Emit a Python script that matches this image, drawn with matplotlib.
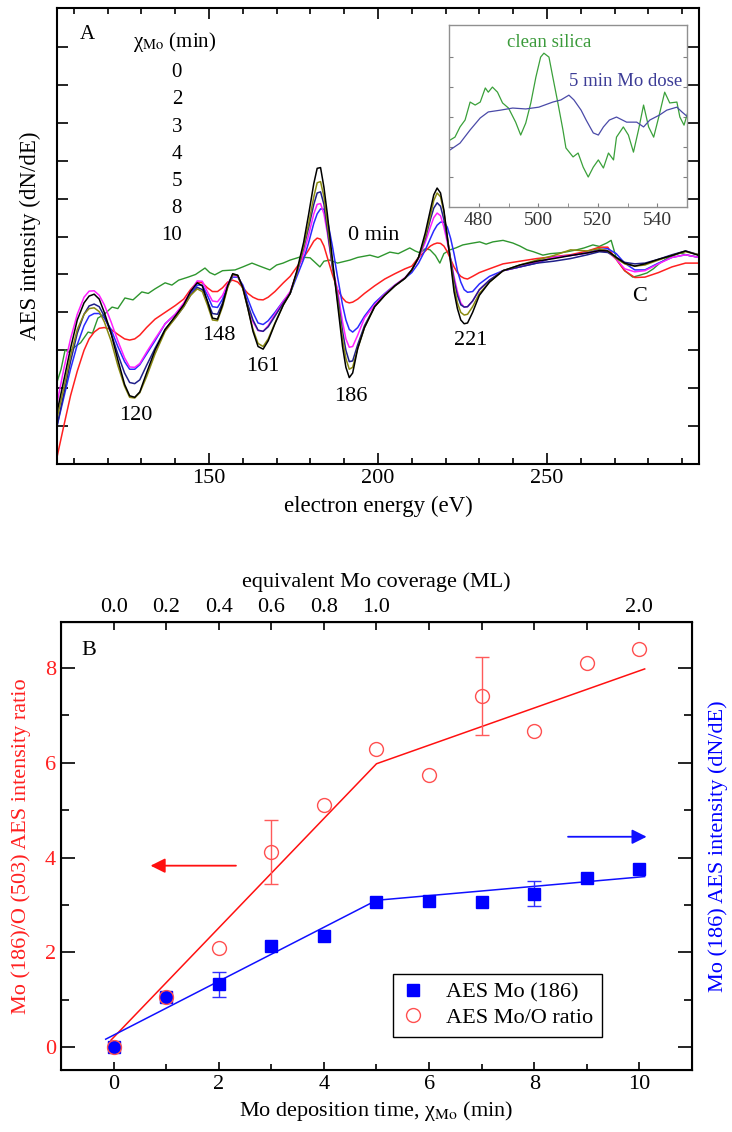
import matplotlib
matplotlib.use("Agg")
import matplotlib.pyplot as plt

plt.rcParams['font.family'] = ['Liberation Serif', 'DejaVu Serif']
plt.rcParams['mathtext.fontset'] = 'stix'

# ---- panel A: AES spectra ----
energy = [105, 107, 109, 111, 113, 114.5, 116, 117.5, 119, 121, 123, 125, 126.5, 128, 129.5, 131.5, 134,
          137, 140, 142.5, 144.5, 146.5, 148, 149.5, 151, 152.5, 154, 155.5, 157, 158.5, 160, 161.5, 163,
          164.5, 166, 167.5, 169.5, 172, 174,
          176, 178, 179.5, 181, 182, 183, 184, 185, 186.5, 188, 189.5, 190.5, 191.5, 192.5, 194, 196,
          199, 202, 205, 208, 210,
          212, 214, 215.5, 216.5, 217.5, 218.5, 219.5, 220.5, 221.5, 222.5, 223.5, 224.5, 225.5, 226.5, 228, 230,
          233, 237, 242, 247, 252, 257, 262, 265.5, 268, 270.5, 273, 276, 279, 283, 287, 291, 295]

spec_10 = [1.37, 2.2, 3.05, 3.8, 4.25, 4.43, 4.48, 4.35, 4.0, 3.45, 2.75, 2.1, 1.8, 1.76, 1.9, 2.4, 3.0,
           3.55, 3.9, 4.2, 4.55, 4.78, 4.7, 4.3, 3.85, 3.82, 4.2, 4.7, 5.02, 4.98, 4.65, 4.1, 3.5,
           3.1, 3.03, 3.25, 3.7, 4.2, 4.5,
           5.1, 5.85, 6.6, 7.4, 7.8, 7.82, 7.3, 6.6, 5.4, 4.25, 3.1, 2.55, 2.28, 2.4, 3.05, 3.6,
           4.15, 4.45, 4.7, 4.9, 5.12,
           5.45, 6.1, 6.7, 7.1, 7.28, 7.15, 6.7, 6.0, 5.3, 4.55, 4.1, 3.8, 3.7, 3.72, 4.0, 4.45,
           4.8, 5.1, 5.25, 5.35, 5.42, 5.5, 5.57, 5.63, 5.62, 5.45, 5.3, 5.22, 5.28, 5.4, 5.5, 5.62, 5.5]
spec_8 = [1.2, 2.0, 2.85, 3.55, 3.95, 4.1, 4.12, 4.02, 3.75, 3.25, 2.6, 2.05, 1.76, 1.74, 1.88, 2.3, 2.9,
          3.5, 3.85, 4.15, 4.45, 4.62, 4.55, 4.2, 3.8, 3.78, 4.15, 4.65, 5.0, 4.97, 4.62, 4.1, 3.55,
          3.18, 3.1, 3.3, 3.72, 4.2, 4.5,
          5.05, 5.75, 6.35, 7.05, 7.42, 7.45, 7.05, 6.35, 5.3, 4.35, 3.3, 2.78, 2.5, 2.55, 3.05, 3.6,
          4.15, 4.45, 4.7, 4.9, 5.12,
          5.45, 6.0, 6.55, 6.95, 7.15, 7.05, 6.65, 6.0, 5.35, 4.7, 4.25, 4.0, 3.93, 3.95, 4.15, 4.5,
          4.8, 5.1, 5.25, 5.38, 5.5, 5.65, 5.62, 5.68, 5.62, 5.42, 5.28, 5.22, 5.25, 5.38, 5.5, 5.6, 5.52]
spec_5 = [1.0, 1.85, 2.7, 3.45, 3.95, 4.17, 4.22, 4.15, 3.9, 3.45, 2.9, 2.4, 2.15, 2.12, 2.22, 2.6, 3.05,
          3.55, 3.85, 4.15, 4.45, 4.66, 4.6, 4.3, 3.97, 3.95, 4.25, 4.68, 5.0, 4.97, 4.65, 4.2, 3.8,
          3.53, 3.5, 3.62, 3.9, 4.25, 4.5,
          5.05, 5.7, 6.25, 6.85, 7.15, 7.18, 6.85, 6.2, 5.2, 4.45, 3.5, 3.0, 2.7, 2.72, 3.15, 3.65,
          4.15, 4.45, 4.7, 4.9, 5.12,
          5.45, 5.95, 6.45, 6.75, 6.89, 6.8, 6.45, 5.95, 5.4, 4.85, 4.45, 4.2, 4.14, 4.15, 4.3, 4.6,
          4.85, 5.1, 5.2, 5.3, 5.35, 5.42, 5.52, 5.6, 5.58, 5.45, 5.32, 5.28, 5.3, 5.4, 5.52, 5.62, 5.52]
spec_4 = [1.6, 2.5, 3.3, 3.95, 4.4, 4.56, 4.57, 4.45, 4.2, 3.75, 3.25, 2.8, 2.56, 2.55, 2.65, 2.95, 3.3,
          3.7, 3.95, 4.25, 4.55, 4.83, 4.82, 4.55, 4.3, 4.28, 4.45, 4.75, 4.98, 4.95, 4.65, 4.15, 3.75,
          3.52, 3.5, 3.65, 3.95, 4.3, 4.55,
          5.05, 5.55, 6.05, 6.6, 6.85, 6.87, 6.6, 6.1, 5.2, 4.6, 3.75, 3.3, 3.08, 3.1, 3.4, 3.85,
          4.2, 4.48, 4.72, 4.92, 5.12,
          5.42, 5.85, 6.25, 6.5, 6.62, 6.55, 6.25, 5.85, 5.4, 4.95, 4.55, 4.25, 4.14, 4.15, 4.3, 4.6,
          4.85, 5.1, 5.2, 5.33, 5.45, 5.5, 5.57, 5.63, 5.6, 5.4, 5.15, 5.07, 5.1, 5.28, 5.45, 5.52, 5.45]
spec_3 = [1.0, 1.75, 2.5, 3.15, 3.65, 3.9, 3.97, 3.97, 3.85, 3.55, 3.1, 2.7, 2.5, 2.5, 2.62, 2.9, 3.25,
          3.7, 3.95, 4.2, 4.5, 4.72, 4.72, 4.45, 4.15, 4.13, 4.35, 4.7, 4.93, 4.93, 4.72, 4.35, 4.0,
          3.72, 3.68, 3.78, 4.0, 4.3, 4.5,
          4.95, 5.4, 5.85, 6.35, 6.6, 6.73, 6.72, 6.45, 5.75, 4.95, 4.2, 3.8, 3.55, 3.48, 3.6, 3.9,
          4.25, 4.5, 4.72, 4.9, 5.05,
          5.3, 5.65, 5.95, 6.15, 6.3, 6.38, 6.38, 6.25, 5.95, 5.55, 5.1, 4.8, 4.6, 4.53, 4.55, 4.75,
          4.95, 5.1, 5.2, 5.3, 5.45, 5.5, 5.57, 5.66, 5.68, 5.55, 5.3, 5.12, 5.12, 5.3, 5.45, 5.52, 5.45]
spec_2 = [0.18, 1.0, 1.8, 2.45, 3.0, 3.3, 3.48, 3.58, 3.6, 3.55, 3.42, 3.3, 3.27, 3.3, 3.4, 3.6, 3.82,
          4.0, 4.18, 4.35, 4.6, 4.8, 4.78, 4.65, 4.55, 4.55, 4.65, 4.8, 4.85, 4.8, 4.65, 4.5, 4.4,
          4.34, 4.33, 4.4, 4.55, 4.78, 4.95,
          5.2, 5.45, 5.65, 5.88, 5.96, 5.93, 5.75, 5.45, 5.0, 4.6, 4.38, 4.28, 4.25, 4.27, 4.35, 4.5,
          4.7, 4.88, 5.02, 5.15, 5.22,
          5.45, 5.62, 5.75, 5.8, 5.83, 5.82, 5.75, 5.6, 5.4, 5.2, 5.05, 4.95, 4.9, 4.88, 4.95, 5.05,
          5.15, 5.28, 5.35, 5.42, 5.47, 5.52, 5.62, 5.72, 5.72, 5.4, 5.1, 4.92, 4.93, 5.05, 5.2, 5.3, 5.3]

energy_0 = [105, 106.2, 107.4, 108.5, 110.3, 112, 114.2, 115.5, 117.1, 119,
            121.3, 123, 125.1, 127.5, 130.1, 132, 134, 137, 139, 141,
            143.8, 146, 148.8, 150.2, 151.7, 154, 157.7, 160, 162.7, 165,
            168, 170, 171.9, 174, 176.9, 179.9, 181, 182.8, 184, 185.8,
            188, 191.7, 194, 197.6, 200, 203.5, 206, 209.4, 211, 212.4,
            214, 215.4, 217, 218.3, 219.5, 221.3, 223, 225.1, 227.5, 230.1,
            232, 234, 237, 239.9, 242, 244.1, 246, 248.8, 251, 253.8,
            256, 258.8, 261, 263.6, 265.5, 267.7, 269, 270.7, 273, 275.4,
            277.5, 279.6, 281.5, 283.4, 286, 289.3, 292, 294.6]
spec_0 = [2.16, 2.5, 3.01, 2.95, 3.09, 3.2, 3.48, 3.45, 3.85, 3.95,
          4.14, 4.1, 4.38, 4.33, 4.54, 4.5, 4.62, 4.78, 4.72, 4.85,
          4.93, 5.0, 5.17, 5.05, 4.99, 5.1, 5.12, 5.2, 5.3, 5.22,
          5.12, 5.25, 5.3, 5.38, 5.46, 5.44, 5.35, 5.2, 5.35, 5.38,
          5.3, 5.38, 5.45, 5.51, 5.45, 5.59, 5.55, 5.7, 5.62, 5.57,
          5.68, 5.65, 5.5, 5.3, 5.55, 5.65, 5.7, 5.78, 5.82, 5.86,
          5.8, 5.86, 5.9, 5.83, 5.75, 5.65, 5.6, 5.51, 5.55, 5.57,
          5.6, 5.65, 5.7, 5.78, 5.74, 5.83, 5.9, 5.38, 5.1, 4.93,
          4.98, 5.04, 5.15, 5.3, 5.45, 5.57, 5.5, 5.46]

dose_labels = ['0', '2', '3', '4', '5', '8', '10']
peak_labels = ['120', '148', '161', '186', '221']
peak_pos = [(128.4, 1.29), (152.9, 3.38), (166.0, 2.56), (192.0, 1.79), (227.5, 3.25)]

# inset: O KLL region
ins_e_clean = [470.3, 472.0, 473.7, 475.4, 477.1, 478.8, 480.5, 482.2, 483.2, 484.6,
               486.3, 488.0, 490.0, 492.4, 494.1, 495.8, 497.5, 499.2, 500.8, 501.9,
               503.6, 504.9, 506.6, 508.3, 509.3, 511.7, 513.4, 515.1, 516.8, 518.5,
               520.2, 521.9, 523.6, 525.3, 526.3, 528.6, 530.3, 532.0, 533.7, 535.4,
               537.1, 538.8, 540.5, 542.5, 544.2, 546.6, 547.6, 549.0, 550.3]
ins_clean = [2.23, 2.33, 2.67, 2.90, 3.50, 3.40, 3.50, 3.97, 3.83, 4.00,
             3.83, 3.47, 3.30, 2.83, 2.40, 2.80, 3.47, 4.33, 5.00, 5.13,
             5.00, 4.33, 3.47, 2.57, 1.97, 1.67, 1.80, 1.33, 1.00, 1.33,
             1.57, 1.30, 1.80, 1.57, 2.33, 2.67, 2.40, 1.83, 2.57, 3.40,
             2.67, 2.33, 3.00, 3.83, 3.47, 3.50, 3.00, 2.73, 3.17]
ins_e_mo = [470.3, 473.7, 477.1, 480.5, 483.2, 487.3, 491.4, 495.8, 500.2, 504.9,
            507.6, 510.3, 512.0, 514.4, 516.1, 518.5, 520.2, 521.9, 523.9, 526.3,
            529.7, 533.1, 535.4, 537.5, 540.8, 543.2, 546.6, 548.3, 550.3]
ins_mo = [1.90, 2.13, 2.57, 2.97, 3.17, 3.23, 3.30, 3.27, 3.33, 3.50,
          3.57, 3.73, 3.57, 3.23, 2.90, 2.47, 2.40, 2.67, 2.90, 3.00,
          2.83, 2.83, 2.67, 2.90, 3.07, 3.23, 3.33, 3.17, 3.00]

# ---- panel B: uptake ----
time_min = [0, 1, 2, 3, 4, 5, 6, 7, 8, 9, 10]
ratio = [0.0, 1.05, 2.1, 4.12, 5.1, 6.3, 5.74, 7.41, 6.67, 8.1, 8.4]
mo186 = [0.0, 1.07, 1.33, 2.13, 2.34, 3.06, 3.08, 3.07, 3.24, 3.56, 3.75]
ratio_err_idx = [3, 7]
ratio_err = [0.67, 0.82]
mo_err_idx = [2, 8]
mo_err = [0.26, 0.27]
ratio_fit_t = [-0.05, 5, 10.1]
ratio_fit = [0.15, 5.98, 7.98]
mo_fit_t = [-0.15, 5, 10.1]
mo_fit = [0.17, 3.1, 3.6]
coverage_labels = ['0.0', '0.2', '0.4', '0.6', '0.8', '1.0', '', '', '', '', '2.0']

W, H = 732, 1132
fig = plt.figure(figsize=(W / 100, H / 100), dpi=100)

# ================= panel A =================
axa = fig.add_axes([57 / W, 1 - 464 / H, 642 / W, 456 / H])
axa.plot(energy_0, spec_0, color='#2e962e', lw=1.0)
axa.plot(energy, spec_2, color='#ff2020', lw=1.1)
axa.plot(energy, spec_3, color='#2a2aff', lw=1.1)
axa.plot(energy, spec_4, color='#ff20ff', lw=1.1)
axa.plot(energy, spec_5, color='#20208a', lw=1.1)
axa.plot(energy, spec_8, color='#8a8a10', lw=1.1)
axa.plot(energy, spec_10, color='black', lw=1.1)

axa.set_xlim(105, 295)
axa.set_ylim(0, 12.03)
axa.set_xticks([150, 200, 250])
axa.set_xticks(range(110, 295, 10), minor=True)
axa.set_yticks(range(1, 12))
axa.set_yticklabels([])
axa.tick_params(which='both', direction='in', top=True, right=True, labelsize=16, width=1.2)
axa.tick_params(which='major', length=8)
axa.tick_params(which='minor', length=4.5)
for s in axa.spines.values():
    s.set_linewidth(1.5)
axa.set_xlabel('electron energy (eV)', fontsize=16.5, labelpad=6)
axa.set_ylabel('AES intensity (dN/dE)', fontsize=16.5, labelpad=8)

axa.text(113.9, 11.32, 'A', fontsize=15, ha='center', va='center')
axa.text(127.5, 11.13, 'χ$_{\\mathrm{Mo}}$ (min)', fontsize=15, ha='left', va='center')
for i, lab in enumerate(dose_labels):
    axa.text(142.0, 10.32 - i * 0.717, lab, fontsize=15, ha='right', va='center')
for lab, (x, y) in zip(peak_labels, peak_pos):
    axa.text(x, y, lab, fontsize=16, ha='center', va='center')
axa.text(198.8, 6.04, '0 min', fontsize=16, ha='center', va='center')
axa.text(277.5, 4.43, 'C', fontsize=16, ha='center', va='center')

# inset
axi = fig.add_axes([449 / W, 1 - 207 / H, 238 / W, 182 / H])
axi.plot(ins_e_clean, ins_clean, color='#3aa03a', lw=0.9)
axi.plot(ins_e_mo, ins_mo, color='#4a4aa8', lw=0.9)
axi.set_xlim(470, 550)
axi.set_ylim(0, 6.07)
axi.set_xticks([480, 500, 520, 540])
axi.set_xticks([490, 510, 530], minor=True)
axi.set_yticks([1, 2, 3, 4, 5])
axi.set_yticklabels([])
axi.tick_params(which='both', direction='in', colors='#808080', labelcolor='#333333',
                labelsize=14, length=3, right=True)
for s in axi.spines.values():
    s.set_color('#909090')
    s.set_linewidth(1.0)
axi.text(503.6, 5.47, 'clean silica', color='#3a9a3a', fontsize=13.5, ha='center', va='center')
axi.text(529.3, 4.17, '5 min Mo dose', color='#3c3c96', fontsize=13.5, ha='center', va='center')

# ================= panel B =================
axb = fig.add_axes([61 / W, 1 - 1070 / H, 631 / W, 448 / H])
axb.plot(ratio_fit_t, ratio_fit, color='#ff1010', lw=1.1)
axb.plot(mo_fit_t, mo_fit, color='#1010ff', lw=1.1)
axb.errorbar([time_min[i] for i in ratio_err_idx], [ratio[i] for i in ratio_err_idx],
             yerr=ratio_err, fmt='none', ecolor='#ff5a5a', elinewidth=1.0, capsize=5)
axb.errorbar([time_min[i] for i in mo_err_idx], [mo186[i] for i in mo_err_idx],
             yerr=mo_err, fmt='none', ecolor='#3030ff', elinewidth=1.0, capsize=5)
axb.plot(time_min, mo186, 's', color='#0000ff', ms=8.5, label='AES Mo (186)')
axb.plot(time_min, ratio, 'o', mfc='none', mec='#ff5050', mew=1.0, ms=10, label='AES Mo/O ratio')

axb.set_xlim(-1, 11)
axb.set_ylim(-0.48, 8.97)
axb.set_xticks([0, 2, 4, 6, 8, 10])
axb.set_xticks([1, 3, 5, 7, 9], minor=True)
axb.set_yticks([0, 2, 4, 6, 8])
axb.set_yticks([1, 3, 5, 7], minor=True)
axb.tick_params(which='both', direction='in', labelsize=16, width=1.2)
axb.tick_params(axis='x', which='major', length=6)
axb.tick_params(axis='x', which='minor', length=4)
axb.tick_params(axis='y', which='major', length=10, labelcolor='#ff2020')
axb.tick_params(axis='y', which='minor', length=6)
for s in axb.spines.values():
    s.set_linewidth(1.5)
axb.set_xlabel('Mo deposition time, χ$_{\\mathrm{Mo}}$ (min)', fontsize=16, labelpad=4)
axb.set_ylabel('Mo (186)/O (503) AES intensity ratio', fontsize=16, color='#ff2020', labelpad=10)

axr = axb.twinx()
axr.set_ylim(-0.48, 8.97)
axr.set_yticks([0, 2, 4, 6, 8])
axr.set_yticks([1, 3, 5, 7], minor=True)
axr.set_yticklabels([])
axr.tick_params(which='both', direction='in', width=1.2)
axr.tick_params(which='major', length=10)
axr.tick_params(which='minor', length=6)
axr.set_ylabel('Mo (186) AES intensity (dN/dE)', fontsize=16, color='#0000ff', labelpad=8)

axt = axb.secondary_xaxis('top')
axt.set_xticks(time_min, coverage_labels)
axt.tick_params(direction='in', length=6, width=1.2, labelsize=16)
axt.set_xlabel('equivalent Mo coverage (ML)', fontsize=16, labelpad=8)

axb.text(-0.48, 8.36, 'B', fontsize=16, ha='center', va='center')
axb.annotate('', xy=(0.65, 3.83), xytext=(2.38, 3.83),
             arrowprops=dict(arrowstyle='-|>', color='#ff1010', lw=1.3, mutation_scale=22))
axb.annotate('', xy=(10.19, 4.44), xytext=(8.59, 4.44),
             arrowprops=dict(arrowstyle='-|>', color='#1010ff', lw=1.3, mutation_scale=22))

leg = axb.legend(loc='lower left', bbox_to_anchor=(0.526, 0.074), borderaxespad=0,
                 fontsize=16, frameon=True, fancybox=False, edgecolor='black', framealpha=1,
                 handlelength=1.0, handletextpad=1.0, borderpad=0.4,
                 labelspacing=0.2, numpoints=1)
leg.get_frame().set_linewidth(1.0)

fig.savefig('out.png', dpi=100)
